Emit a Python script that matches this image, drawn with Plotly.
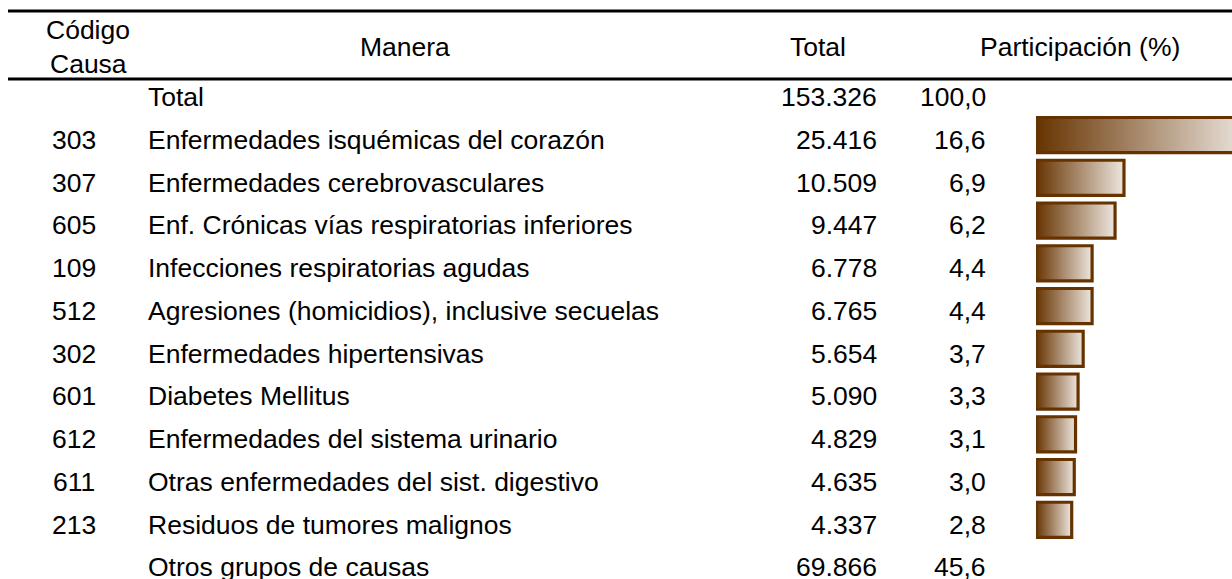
import plotly.graph_objects as go

codes = ["", "303", "307", "605", "109", "512", "302", "601", "612", "611", "213", ""]
causes = ["Total", "Enfermedades isquémicas del corazón", "Enfermedades cerebrovasculares",
          "Enf. Crónicas vías respiratorias inferiores", "Infecciones respiratorias agudas",
          "Agresiones (homicidios), inclusive secuelas", "Enfermedades hipertensivas",
          "Diabetes Mellitus", "Enfermedades del sistema urinario",
          "Otras enfermedades del sist. digestivo", "Residuos de tumores malignos",
          "Otros grupos de causas"]
totals = ["153.326", "25.416", "10.509", "9.447", "6.778", "6.765", "5.654", "5.090",
          "4.829", "4.635", "4.337", "69.866"]
shares = [100.0, 16.6, 6.9, 6.2, 4.4, 4.4, 3.7, 3.3, 3.1, 3.0, 2.8, 45.6]
bar_rows = list(range(1, 11))  # rows that get a bar

W, H = 1232, 579
row0_px, row_h = 97.0, 42.75
y_top = -row0_px / row_h
y_bot = (H - row0_px) / row_h


def py(px):
    return (px - row0_px) / row_h


FONT = "Liberation Sans, Arial, sans-serif"
FS = 26.5
DARK = "#663300"

fig = go.Figure()

# bars (gradient filled polygons)
bar_x0 = 1036
px_per_unit = 12.75
for i in bar_rows:
    v = shares[i]
    y0, y1 = i - 0.52, i + 0.30
    fig.add_trace(go.Scatter(
        x=[0, v, v, 0, 0], y=[y0, y0, y1, y1, y0],
        mode="lines", fill="toself",
        line=dict(color=DARK, width=3.2),
        fillgradient=dict(type="horizontal",
                          colorscale=[[0, DARK], [1, "#ede6df"]]),
        xaxis="x2", yaxis="y", hoverinfo="skip", showlegend=False))

ann = []


def txt(x, y, s, anchor="left", size=FS):
    ann.append(dict(x=x, y=y, xref="paper", yref="y", text=s, showarrow=False,
                    xanchor=anchor, yanchor="middle",
                    font=dict(family=FONT, size=size, color="#000000")))


# header
txt(88 / W, py(30), "Código", "center")
txt(88 / W, py(64), "Causa", "center")
txt(405 / W, py(47), "Manera", "center")
txt(818 / W, py(47), "Total", "center")
txt(1080 / W, py(47), "Participación (%)", "center")

for i in range(len(causes)):
    if codes[i]:
        txt(74 / W, i, codes[i], "center")
    txt(146 / W, i, causes[i], "left")
    txt(879 / W, i, totals[i], "right")
    txt(988 / W, i, f"{shares[i]:.1f}".replace(".", ","), "right")

shapes = []
for yl in [py(11), py(79)]:
    shapes.append(dict(type="line", xref="paper", yref="y", x0=8 / W, x1=1,
                       y0=yl, y1=yl, line=dict(color="#000000", width=3)))

fig.update_layout(
    width=W, height=H, margin=dict(l=0, r=0, t=0, b=0),
    paper_bgcolor="white", plot_bgcolor="rgba(0,0,0,0)",
    annotations=ann, shapes=shapes,
    xaxis=dict(domain=[0, 1], range=[0, 1], visible=False, fixedrange=True),
    xaxis2=dict(domain=[bar_x0 / W, 1], range=[0, (W - bar_x0) / px_per_unit],
                visible=False, anchor="y", fixedrange=True),
    yaxis=dict(domain=[0, 1], range=[y_bot, y_top], visible=False, fixedrange=True),
    showlegend=False,
)

fig.write_html("out.html", config={"displayModeBar": False},
               post_script="document.body.style.margin='0';document.body.style.overflow='hidden';")
